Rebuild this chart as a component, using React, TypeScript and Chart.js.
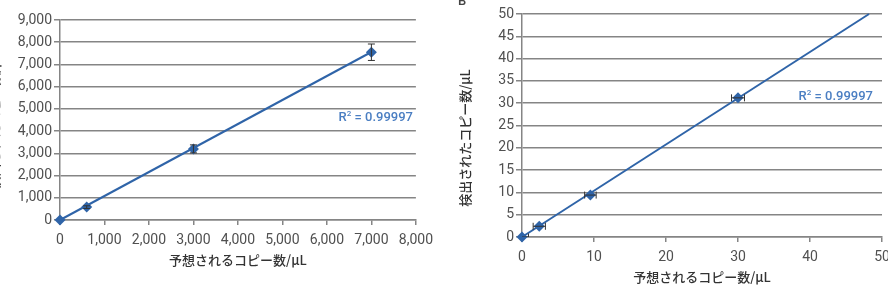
import React, { useEffect, useRef } from "react";
import { Chart, registerables } from "chart.js";
Chart.register(...registerables);

// ---- Data: chart A (left) ----
const leftExpected = [0, 600, 3000, 7000];
const leftDetected = [0, 580, 3200, 7550];
const leftErrY = [0, 60, 180, 370];
const leftTrendX = [0, 7000];
const leftTrendY = [0, 7560];
const leftXMax = 8000;
const leftYMax = 9000;
const leftXStep = 1000;
const leftYStep = 1000;

// ---- Data: chart B (right) ----
const rightExpected = [0, 2.4, 9.5, 30];
const rightDetected = [0, 2.4, 9.4, 31.2];
const rightErrX = [0.9, 0.85, 0.8, 0.9];
const rightTrendX = [0, 48.2];
const rightTrendY = [0, 50];
const rightXMax = 50;
const rightYMax = 50;
const rightXStep = 10;
const rightYStep = 5;

const r2Text = "0.99997";
const xTitle = "予想されるコピー数/μL";
const yTitle = "検出されたコピー数/μL";
const panelLabel = "B";

const LINE = "#2f64a8";
const GRID = "#858585";
const TICK = "#505050";
const TITLE = "#333333";
const R2C = "#4a7ec2";
const CJK = '"Noto Sans CJK JP", "Noto Sans", sans-serif';

Chart.defaults.font.family = "Roboto, 'Noto Sans', sans-serif";

function fmt(v: number) {
  return Number(v).toLocaleString("en-US");
}

function drawR2(ctx: CanvasRenderingContext2D, rightX: number, midY: number) {
  ctx.save();
  ctx.fillStyle = R2C;
  ctx.textBaseline = "middle";
  ctx.textAlign = "left";
  const big = "500 13px Roboto";
  const small = "500 8px Roboto";
  ctx.font = big;
  const wR = ctx.measureText("R").width;
  const rest = " = " + r2Text;
  const wRest = ctx.measureText(rest).width;
  ctx.font = small;
  const w2 = ctx.measureText("2").width;
  const total = wR + w2 + wRest;
  let x = rightX - total;
  ctx.font = big;
  ctx.fillText("R", x, midY);
  x += wR;
  ctx.font = small;
  ctx.fillText("2", x, midY - 4);
  x += w2;
  ctx.font = big;
  ctx.fillText(rest, x, midY);
  ctx.restore();
}

function makeConfig(opts: {
  ex: number[];
  det: number[];
  errX?: number[];
  errY?: number[];
  trendX: number[];
  trendY: number[];
  xMax: number;
  yMax: number;
  xStep: number;
  yStep: number;
  yWidth: number;
  xHeight: number;
  padTop: number;
  padRight: number;
  yTitleX: number;
  yTitleY: number;
  r2X: number;
  r2Y: number;
  label?: { text: string; x: number; y: number };
}): any {
  const overlay = {
    id: "overlay",
    afterDatasetsDraw(chart: any) {
      const { ctx, chartArea: a } = chart;
      const xs = chart.scales.x;
      const ys = chart.scales.y;
      ctx.save();
      ctx.beginPath();
      ctx.rect(a.left, a.top - 20, a.right - a.left + 20, a.bottom - a.top + 20);
      ctx.clip();
      ctx.strokeStyle = "#333";
      ctx.lineWidth = 1;
      const cap = 3.5;
      opts.ex.forEach((xv, i) => {
        const px = xs.getPixelForValue(xv);
        const py = ys.getPixelForValue(opts.det[i]);
        if (opts.errY && opts.errY[i] > 0) {
          const t = ys.getPixelForValue(opts.det[i] + opts.errY[i]);
          const b = ys.getPixelForValue(opts.det[i] - opts.errY[i]);
          ctx.beginPath();
          ctx.moveTo(px, t);
          ctx.lineTo(px, b);
          ctx.moveTo(px - cap, t);
          ctx.lineTo(px + cap, t);
          ctx.moveTo(px - cap, b);
          ctx.lineTo(px + cap, b);
          ctx.stroke();
        }
        if (opts.errX && opts.errX[i] > 0) {
          const l = xs.getPixelForValue(xv - opts.errX[i]);
          const r = xs.getPixelForValue(xv + opts.errX[i]);
          ctx.beginPath();
          ctx.moveTo(l, py);
          ctx.lineTo(r, py);
          ctx.moveTo(l, py - cap);
          ctx.lineTo(l, py + cap);
          ctx.moveTo(r, py - cap);
          ctx.lineTo(r, py + cap);
          ctx.stroke();
        }
      });
      ctx.restore();
    },
    afterDraw(chart: any) {
      const { ctx, chartArea: a } = chart;
      ctx.save();
      ctx.fillStyle = TITLE;
      ctx.font = "500 13px " + CJK;
      ctx.textAlign = "center";
      ctx.textBaseline = "middle";
      ctx.fillText(xTitle, (a.left + a.right) / 2, a.bottom + 40);
      ctx.save();
      ctx.translate(opts.yTitleX, opts.yTitleY);
      ctx.rotate(-Math.PI / 2);
      ctx.fillText(yTitle, 0, 0);
      ctx.restore();
      if (opts.label) {
        ctx.font = "500 13px Roboto";
        ctx.fillStyle = "#444";
        ctx.fillText(opts.label.text, opts.label.x, opts.label.y);
      }
      ctx.restore();
      drawR2(ctx, opts.r2X, opts.r2Y);
    },
  };

  return {
    type: "scatter",
    data: {
      datasets: [
        {
          data: opts.ex.map((x, i) => ({ x, y: opts.det[i] })),
          pointStyle: "rectRot",
          pointRadius: 5.5,
          pointBackgroundColor: LINE,
          pointBorderColor: LINE,
          borderWidth: 0,
          showLine: false,
          clip: false,
        },
        {
          data: opts.trendX.map((x, i) => ({ x, y: opts.trendY[i] })),
          showLine: true,
          borderColor: LINE,
          borderWidth: 2,
          pointRadius: 0,
          clip: false,
        },
      ],
    },
    options: {
      animation: false,
      responsive: false,
      events: [],
      layout: { padding: { top: opts.padTop, right: opts.padRight, left: 0, bottom: 0 } },
      plugins: { legend: { display: false }, tooltip: { enabled: false } },
      scales: {
        x: {
          type: "linear",
          min: 0,
          max: opts.xMax,
          afterFit: (s: any) => {
            s.height = opts.xHeight;
          },
          ticks: {
            stepSize: opts.xStep,
            color: TICK,
            font: { size: 14 },
            padding: 7,
            maxRotation: 0,
            callback: (v: any) => fmt(v),
          },
          grid: {
            drawOnChartArea: false,
            drawTicks: true,
            tickLength: 5,
            color: GRID,
            lineWidth: 1.5,
          },
          border: { display: true, color: GRID, width: 1.5 },
        },
        y: {
          type: "linear",
          min: 0,
          max: opts.yMax,
          afterFit: (s: any) => {
            s.width = opts.yWidth;
          },
          ticks: {
            stepSize: opts.yStep,
            color: TICK,
            font: { size: 14 },
            padding: 2,
            callback: (v: any) => fmt(v),
          },
          grid: {
            color: GRID,
            lineWidth: 1.5,
            tickLength: 6,
          },
          border: { display: true, color: GRID, width: 1.5 },
        },
      },
    },
    plugins: [overlay],
  };
}

function ChartCanvas(props: { config: any; left: number; width: number; height: number }) {
  const ref = useRef<HTMLCanvasElement | null>(null);
  useEffect(() => {
    if (!ref.current) return;
    const c = new Chart(ref.current, props.config);
    return () => c.destroy();
  }, []);
  return (
    <canvas
      ref={ref}
      width={props.width}
      height={props.height}
      style={{ position: "absolute", left: props.left, top: 0, width: props.width, height: props.height }}
    />
  );
}

export default function App() {
  const leftCfg = makeConfig({
    ex: leftExpected,
    det: leftDetected,
    errY: leftErrY,
    trendX: leftTrendX,
    trendY: leftTrendY,
    xMax: leftXMax,
    yMax: leftYMax,
    xStep: leftXStep,
    yStep: leftYStep,
    yWidth: 60,
    xHeight: 67,
    padTop: 20,
    padRight: 20,
    yTitleX: -6,
    yTitleY: 121,
    r2X: 413,
    r2Y: 118,
  });
  const rightCfg = makeConfig({
    ex: rightExpected,
    det: rightDetected,
    errX: rightErrX,
    trendX: rightTrendX,
    trendY: rightTrendY,
    xMax: rightXMax,
    yMax: rightYMax,
    xStep: rightXStep,
    yStep: rightYStep,
    yWidth: 82,
    xHeight: 50,
    padTop: 14,
    padRight: 28,
    yTitleX: 25,
    yTitleY: 138,
    r2X: 433,
    r2Y: 97,
    label: { text: panelLabel, x: 22, y: 2 },
  });
  return (
    <div
      style={{
        position: "fixed",
        left: 0,
        top: 0,
        width: 888,
        height: 287,
        overflow: "hidden",
        background: "#fff",
      }}
    >
      <ChartCanvas config={leftCfg} left={0} width={440} height={287} />
      <ChartCanvas config={rightCfg} left={440} width={470} height={287} />
    </div>
  );
}
